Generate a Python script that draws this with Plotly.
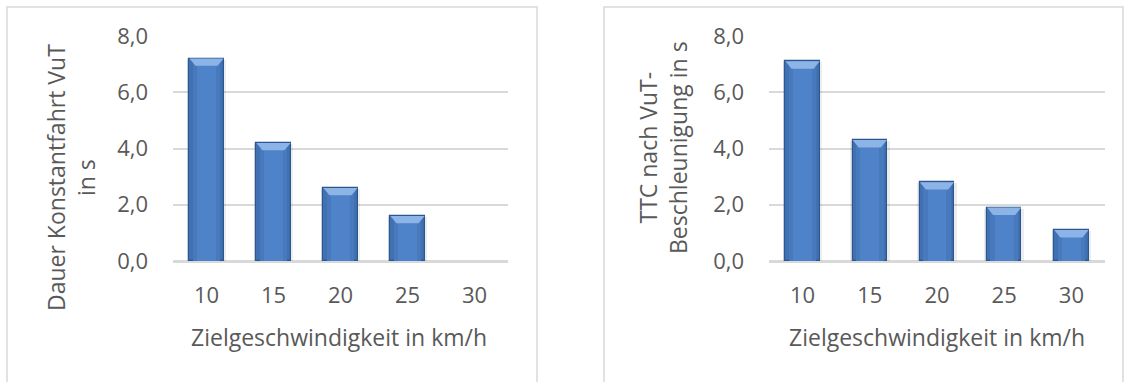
import plotly.graph_objects as go

# Target speeds (km/h) and measured durations (s)
speeds = ["10", "15", "20", "25", "30"]
dauer_konstantfahrt = [7.2, 4.2, 2.6, 1.6, 0.0]
ttc_nach_beschleunigung = [7.1, 4.3, 2.8, 1.9, 1.1]
y_ticks = [0, 2, 4, 6, 8]

W, H = 1126, 382
FONT = "Open Sans"
FS = 22
FS_TITLE = 23
TEXT = "#595959"
GRID = "#D9D9D9"
BAR_W = 0.51

fig = go.Figure()


def add_bars(values, xa, ya):
    pos = list(range(len(values)))
    common = dict(xaxis=xa, yaxis=ya, showlegend=False, hoverinfo="skip")
    drawn = [v > 0 for v in values]
    # soft drop shadow
    fig.add_trace(go.Bar(x=pos, y=[v + 0.06 if d else 0 for v, d in zip(values, drawn)],
                         base=[-0.1 if d else 0 for d in drawn],
                         width=BAR_W + 0.08,
                         marker=dict(color="rgba(0,0,0,0.07)", line=dict(width=0)), **common))
    # bar body
    fig.add_trace(go.Bar(x=pos, y=values, width=BAR_W,
                         marker=dict(color="#3F71B3",
                                     line=dict(color="#2B5690", width=[1.2 if d else 0 for d in drawn])),
                         **common))
    # lighter centre for a rounded look
    fig.add_trace(go.Bar(x=pos, y=values, width=BAR_W * 0.8,
                         marker=dict(color="#4879BC", line=dict(width=0)), **common))
    fig.add_trace(go.Bar(x=pos, y=values, width=BAR_W * 0.55,
                         marker=dict(color="#4E83C9", line=dict(width=0)), **common))
    # bevelled top cap
    bev = 0.26
    inset = 0.09
    for p, v in zip(pos, values):
        if v <= 0:
            continue
        h = min(bev, v * 0.5)
        xs = [p - BAR_W / 2, p + BAR_W / 2, p + BAR_W / 2 - inset, p - BAR_W / 2 + inset, p - BAR_W / 2]
        ys = [v, v, v - h, v - h, v]
        fig.add_trace(go.Scatter(x=xs, y=ys, mode="lines", fill="toself",
                                 fillcolor="#8DB4E6", line=dict(width=0), **common))


add_bars(dauer_konstantfahrt, "x", "y")
add_bars(ttc_nach_beschleunigung, "x2", "y2")

y_bottom = 1 - 261 / H
y_top = 1 - 36 / H

xaxis_common = dict(
    range=[-0.5, 4.5], tickmode="array", tickvals=list(range(len(speeds))), ticktext=speeds,
    showgrid=False, zeroline=False, showline=False, ticks="", automargin=False,
    tickfont=dict(family=FONT, size=FS, color=TEXT), ticklabelstandoff=19, fixedrange=True,
)
yaxis_common = dict(
    range=[0, 8], tickmode="array", tickvals=y_ticks, tickformat=".1f",
    showgrid=True, gridcolor=GRID, gridwidth=1.5, zeroline=True, zerolinecolor=GRID, zerolinewidth=2.5,
    showline=False, ticks="", automargin=False, tickfont=dict(family=FONT, size=FS, color=TEXT),
    ticklabelstandoff=24, fixedrange=True,
)

fig.update_layout(
    width=W, height=H, margin=dict(l=0, r=0, t=0, b=0),
    paper_bgcolor="white", plot_bgcolor="white",
    separators=",.", barmode="overlay", bargap=0,
    xaxis=dict(domain=[173 / W, 508 / W], anchor="y", **xaxis_common),
    yaxis=dict(domain=[y_bottom, y_top], anchor="x", **yaxis_common),
    xaxis2=dict(domain=[769 / W, 1105 / W], anchor="y2", **xaxis_common),
    yaxis2=dict(domain=[y_bottom, y_top], anchor="x2", **yaxis_common),
    shapes=[
        dict(type="rect", xref="paper", yref="paper", x0=7 / W, x1=537 / W, y0=-0.1, y1=1 - 7 / H,
             line=dict(color=GRID, width=1.5), fillcolor="rgba(0,0,0,0)", layer="below"),
        dict(type="rect", xref="paper", yref="paper", x0=604 / W, x1=1123 / W, y0=-0.1, y1=1 - 7 / H,
             line=dict(color=GRID, width=1.5), fillcolor="rgba(0,0,0,0)", layer="below"),
    ],
    annotations=[
        dict(text="Zielgeschwindigkeit in km/h", xref="paper", yref="paper", x=339 / W, y=1 - 337 / H,
             showarrow=False, font=dict(family=FONT, size=FS_TITLE, color=TEXT), xanchor="center", yanchor="middle"),
        dict(text="Zielgeschwindigkeit in km/h", xref="paper", yref="paper", x=937 / W, y=1 - 337 / H,
             showarrow=False, font=dict(family=FONT, size=FS_TITLE, color=TEXT), xanchor="center", yanchor="middle"),
        dict(text="Dauer Konstantfahrt VuT<br>in s", xref="paper", yref="paper", x=71 / W, y=1 - 178 / H,
             showarrow=False, textangle=-90, font=dict(family=FONT, size=FS_TITLE, color=TEXT),
             xanchor="center", yanchor="middle"),
        dict(text="TTC nach VuT-<br>Beschleunigung in s", xref="paper", yref="paper", x=663 / W, y=1 - 148 / H,
             showarrow=False, textangle=-90, font=dict(family=FONT, size=FS_TITLE, color=TEXT),
             xanchor="center", yanchor="middle"),
    ],
)

fig.write_html(
    "out.html",
    post_script="document.body.style.margin='0';document.body.style.overflow='hidden';",
)
